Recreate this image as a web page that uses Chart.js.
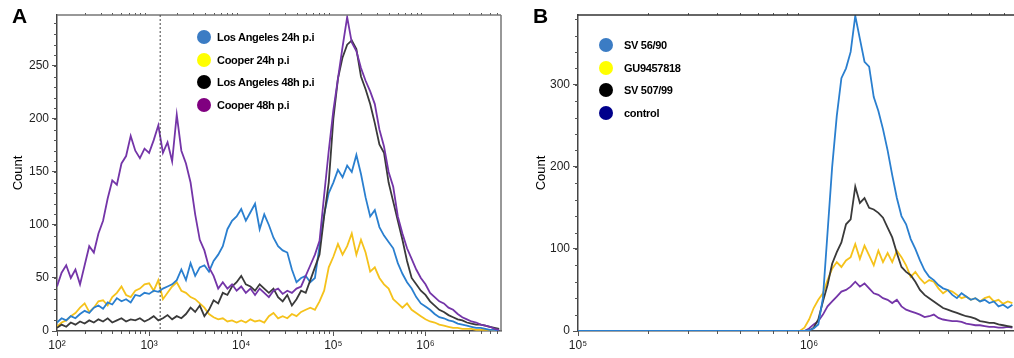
<html lang="en">
<head>
    <meta charset="UTF-8">
    <title>Flow cytometry histograms</title>
    <script src="https://cdn.jsdelivr.net/npm/chart.js"></script>
    <style>
        body { margin: 0; background: #fff; font-family: "Liberation Sans", Arial, sans-serif; }
        #wrap { position: relative; width: 1014px; height: 358px; overflow: hidden; }
        .panel { position: absolute; top: 0; height: 358px; }
        .letter { position: absolute; top: 4px; font-weight: bold; font-size: 21px; color: #000; }
        .legend { position: absolute; font-size: 11px; font-weight: bold; letter-spacing: -0.3px; color: #000; }
        .legend div { display: flex; align-items: center; height: 14px; margin-bottom: 8.5px; white-space: nowrap; }
        .legend span.dot { width: 14px; height: 14px; border-radius: 50%; display: inline-block; margin-right: 6px; flex: none; }
        #legendB span.dot { margin-right: 11px; }
    </style>
</head>
<body>
    <div id="wrap">
        <div class="panel" style="left:0;width:510px"><canvas id="chartA"></canvas></div>
        <div class="panel" style="left:510px;width:504px"><canvas id="chartB"></canvas></div>
        <div class="letter" style="left:12px">A</div>
        <div class="letter" style="left:533px">B</div>
        <div class="legend" id="legendA" style="left:197px;top:30px"></div>
        <div class="legend" id="legendB" style="left:599px;top:38px"></div>
    </div>

    <script>
        // ---- panel A: bins are log10 of fluorescence ----
        const binExpA = [
            2.00, 2.05, 2.10, 2.15, 2.20, 2.25, 2.30, 2.35, 2.40, 2.45,
            2.50, 2.55, 2.60, 2.65, 2.70, 2.75, 2.80, 2.85, 2.90, 2.95,
            3.00, 3.05, 3.10, 3.15, 3.20, 3.25, 3.30, 3.35, 3.40, 3.45,
            3.50, 3.55, 3.60, 3.65, 3.70, 3.75, 3.80, 3.85, 3.90, 3.95,
            4.00, 4.05, 4.10, 4.15, 4.20, 4.25, 4.30, 4.35, 4.40, 4.45,
            4.50, 4.55, 4.60, 4.65, 4.70, 4.75, 4.80, 4.85, 4.90, 4.95,
            5.00, 5.05, 5.10, 5.15, 5.20, 5.25, 5.30, 5.35, 5.40, 5.45,
            5.50, 5.55, 5.60, 5.65, 5.70, 5.75, 5.80, 5.85, 5.90, 5.95,
            6.00, 6.05, 6.10, 6.15, 6.20, 6.25, 6.30, 6.35, 6.40, 6.45,
            6.50, 6.55, 6.60, 6.65, 6.70, 6.75, 6.80
        ];
        const cooper48 = [
            42, 55, 62, 50, 58, 44, 62, 80, 74, 92,
            104, 125, 142, 138, 158, 165, 184, 170, 163, 172,
            168, 180, 194, 168, 178, 160, 204, 170, 158, 140,
            110, 86, 76, 60, 52, 40, 46, 40, 44, 38,
            42, 36, 40, 34, 40, 36, 32, 38, 40, 35,
            38, 36, 40, 42, 52, 62, 72, 85, 128, 170,
            208, 238, 268, 296, 272, 264, 248, 236, 226, 214,
            190, 174, 150, 136, 108, 92, 78, 68, 58, 50,
            44, 36, 32, 28, 26, 22, 20, 16, 13, 11,
            9, 8, 6, 5, 4, 2, 1
        ];
        const losAngeles48 = [
            3, 6, 4, 8, 6, 9, 7, 10, 8, 11,
            9, 12, 8, 10, 12, 9, 11, 10, 12, 9,
            11, 14, 10, 12, 15, 11, 14, 12, 16, 22,
            18, 24, 14, 20, 29, 26, 36, 34, 42, 46,
            52, 44, 42, 38, 44, 40, 36, 40, 32, 28,
            34, 24, 30, 38, 36, 48, 60, 72, 108, 140,
            200, 238, 258, 270, 274, 266, 240, 228, 214, 196,
            176, 168, 140, 122, 104, 86, 66, 50, 44, 38,
            34, 28, 24, 20, 18, 15, 13, 11, 10, 8,
            7, 6, 6, 5, 4, 3, 2
        ];
        const losAngeles24 = [
            8, 12, 10, 14, 12, 16, 19, 17, 22, 24,
            21, 27, 25, 31, 28, 30, 27, 34, 33, 36,
            35, 38, 37, 40, 42, 44, 48, 58, 48, 64,
            52, 60, 62, 56, 66, 72, 80, 96, 104, 108,
            115, 104, 112, 120, 96, 110, 100, 88, 80, 76,
            74, 58, 46, 50, 52, 46, 50, 80, 110, 130,
            140, 152, 145, 156, 150, 166, 148, 126, 108, 114,
            98, 90, 84, 78, 64, 54, 46, 40, 32, 26,
            23, 20, 16, 13, 12, 10, 9, 7, 6, 5,
            4, 3, 3, 2, 1, 1, 0
        ];
        const cooper24 = [
            4, 8, 10, 14, 17, 22, 26, 18, 22, 28,
            29, 24, 32, 36, 42, 34, 32, 38, 40, 44,
            45, 38, 48, 30, 36, 42, 46, 38, 36, 32,
            30, 26, 22, 16, 13, 11, 12, 9, 10, 8,
            10, 8, 11, 9, 10, 8, 14, 17, 12, 14,
            12, 16, 14, 18, 20, 22, 20, 28, 38, 60,
            70, 82, 72, 80, 92, 72, 86, 74, 56, 60,
            50, 44, 40, 30, 26, 22, 26, 20, 17, 14,
            11, 9, 8, 6, 5, 4, 3, 3, 2, 2,
            2, 1, 1, 1, 1, 0, 0
        ];
        const gateExpA = 3.12;

        // ---- panel B ----
        const binExpB = [
            5.00,
            5.90, 5.92, 5.94, 5.96, 5.98, 6.00, 6.02, 6.04, 6.06, 6.08,
            6.10, 6.12, 6.14, 6.16, 6.18, 6.20, 6.22, 6.24, 6.26, 6.28,
            6.30, 6.32, 6.34, 6.36, 6.38, 6.40, 6.42, 6.44, 6.46, 6.48,
            6.50, 6.52, 6.54, 6.56, 6.58, 6.60, 6.62, 6.64, 6.66, 6.68,
            6.70, 6.72, 6.74, 6.76, 6.78, 6.80, 6.82, 6.84, 6.86, 6.88
        ];
        const sv5690 = [
            0,
            0, 0, 0, 0, 0, 1, 3, 8, 40, 120,
            200, 262, 308, 320, 340, 384, 356, 328, 322, 285,
            268, 246, 220, 190, 162, 140, 130, 112, 100, 86,
            74, 66, 62, 56, 52, 50, 44, 40, 46, 42,
            38, 40, 36, 38, 34, 36, 30, 32, 28, 32
        ];
        const gu9457818 = [
            0,
            0, 0, 0, 0, 4, 14, 28, 38, 46, 62,
            76, 84, 78, 86, 90, 106, 88, 104, 92, 80,
            98, 84, 95, 84, 98, 90, 80, 66, 72, 64,
            58, 62, 60, 52, 46, 50, 48, 44, 40, 42,
            38, 40, 36, 40, 42, 36, 38, 33, 36, 34
        ];
        const sv50799 = [
            0,
            0, 0, 0, 0, 0, 0, 4, 14, 36, 56,
            82, 96, 108, 130, 136, 176, 156, 162, 150, 148,
            144, 138, 126, 114, 95, 78, 72, 68, 60, 50,
            44, 40, 36, 32, 28, 26, 24, 22, 20, 18,
            17, 15, 12, 11, 10, 10, 8, 7, 6, 5
        ];
        const control = [
            0,
            0, 0, 0, 0, 0, 3, 8, 12, 20, 30,
            36, 42, 48, 50, 54, 60, 54, 58, 52, 46,
            44, 40, 38, 34, 38, 30, 26, 24, 22, 20,
            17, 18, 20, 16, 14, 13, 12, 12, 11, 9,
            8, 7, 7, 6, 5, 5, 4, 4, 5, 4
        ];

        const ticksA = [0, 50, 100, 150, 200, 250];
        const ticksB = [0, 100, 200, 300];
        const decadesA = [2, 3, 4, 5, 6];
        const decadesB = [5, 6];

        const BLUE = '#2a7fcf', YELLOW = '#f5c21b', BLACK = '#3a3a3a', PURPLE = '#7435a8';
        const sup = { 2: '\u00b2', 3: '\u00b3', 4: '\u2074', 5: '\u2075', 6: '\u2076', 7: '\u2077' };

        function pts(exps, vals) {
            return exps.map((e, i) => ({ x: Math.pow(10, e), y: vals[i] }));
        }

        // minor ticks, top/right frame and gate line
        const frame = {
            id: 'frame',
            afterDraw(chart, args, o) {
                const { ctx, chartArea: a, scales: { x, y } } = chart;
                ctx.save();
                ctx.strokeStyle = '#555';
                ctx.lineWidth = 1;
                const lo = Math.floor(Math.log10(x.min)), hi = Math.ceil(Math.log10(x.max));
                for (let n = lo; n <= hi; n++) {
                    for (let k = 2; k <= 9; k++) {
                        const v = k * Math.pow(10, n);
                        if (v <= x.min || v >= x.max) continue;
                        const px = Math.round(x.getPixelForValue(v)) + 0.5;
                        ctx.beginPath();
                        ctx.moveTo(px, a.bottom); ctx.lineTo(px, a.bottom + 3);
                        ctx.moveTo(px, a.top); ctx.lineTo(px, a.top - 2);
                        ctx.stroke();
                    }
                }
                for (let v = 0; v <= y.max; v += o.yMinor) {
                    const py = Math.round(y.getPixelForValue(v)) + 0.5;
                    ctx.beginPath();
                    ctx.moveTo(a.left, py); ctx.lineTo(a.left - 3, py);
                    ctx.stroke();
                }
                ctx.lineWidth = 1.5;
                ctx.strokeStyle = o.topColor;
                ctx.beginPath();
                ctx.moveTo(a.left, a.top); ctx.lineTo(a.right, a.top);
                if (o.right) { ctx.moveTo(a.right, a.top); ctx.lineTo(a.right, a.bottom); }
                ctx.stroke();
                if (o.gate) {
                    const gx = x.getPixelForValue(Math.pow(10, o.gate));
                    ctx.lineWidth = 1;
                    ctx.strokeStyle = '#444';
                    ctx.setLineDash([2, 2]);
                    ctx.beginPath();
                    ctx.moveTo(gx, a.top); ctx.lineTo(gx, a.bottom);
                    ctx.stroke();
                }
                ctx.restore();
            }
        };

        function makeChart(id, cfg) {
            return new Chart(document.getElementById(id), {
                type: 'line',
                data: {
                    datasets: cfg.series.map(s => ({
                        label: s.label,
                        data: pts(cfg.exps, s.data),
                        borderColor: s.color,
                        borderWidth: 1.8,
                        pointRadius: 0,
                        tension: 0,
                        fill: false
                    }))
                },
                options: {
                    responsive: true,
                    maintainAspectRatio: false,
                    animation: false,
                    layout: { padding: cfg.padding },
                    plugins: { legend: { display: false }, tooltip: { enabled: false }, frame: cfg.frame },
                    scales: {
                        x: {
                            type: 'logarithmic',
                            min: Math.pow(10, cfg.xMin),
                            max: Math.pow(10, cfg.xMax),
                            afterBuildTicks: sc => { sc.ticks = cfg.decades.map(n => ({ value: Math.pow(10, n) })); },
                            afterFit: sc => { sc.height = 27; },
                            ticks: {
                                autoSkip: false,
                                maxRotation: 0,
                                color: '#222',
                                font: { family: 'Liberation Sans', size: 12 },
                                padding: 2,
                                callback: v => '10' + sup[Math.round(Math.log10(v))]
                            },
                            grid: { drawOnChartArea: false, tickLength: 5, color: '#555' },
                            border: { color: '#444', width: 1.5 }
                        },
                        y: {
                            min: 0,
                            max: cfg.yMax,
                            afterBuildTicks: sc => { sc.ticks = cfg.yTicks.map(v => ({ value: v })); },
                            afterFit: sc => { sc.width = cfg.yWidth; },
                            ticks: {
                                color: '#222',
                                font: { family: 'Liberation Sans', size: 12 },
                                padding: 3
                            },
                            title: {
                                display: true,
                                text: 'Count',
                                color: '#000',
                                font: { family: 'Liberation Sans', size: 13 },
                                padding: { top: cfg.titlePad, bottom: 0 }
                            },
                            grid: { drawOnChartArea: false, tickLength: 5, color: '#555' },
                            border: { color: '#444', width: 1.5 }
                        }
                    }
                },
                plugins: [frame]
            });
        }

        makeChart('chartA', {
            exps: binExpA,
            series: [
                { label: 'Cooper 48h p.i', data: cooper48, color: PURPLE },
                { label: 'Los Angeles 48h p.i', data: losAngeles48, color: BLACK },
                { label: 'Los Angeles 24h p.i', data: losAngeles24, color: BLUE },
                { label: 'Cooper 24h p.i', data: cooper24, color: YELLOW }
            ],
            xMin: 2, xMax: 6.82, decades: decadesA,
            yMax: 298, yTicks: ticksA, yWidth: 57, titlePad: 11,
            padding: { top: 15, right: 9, left: 0, bottom: 0 },
            frame: { yMinor: 10, right: true, gate: gateExpA, topColor: '#777' }
        });

        makeChart('chartB', {
            exps: binExpB,
            series: [
                { label: 'SV 56/90', data: sv5690, color: BLUE },
                { label: 'SV 507/99', data: sv50799, color: BLACK },
                { label: 'GU9457818', data: gu9457818, color: YELLOW },
                { label: 'control', data: control, color: PURPLE }
            ],
            xMin: 5, xMax: 6.887, decades: decadesB,
            yMax: 385, yTicks: ticksB, yWidth: 68, titlePad: 24,
            padding: { top: 15, right: 0, left: 0, bottom: 0 },
            frame: { yMinor: 20, right: false, gate: null, topColor: '#333' }
        });

        // legends with coloured circles
        const legendA = [
            ['Los Angeles 24h p.i', '#3b7cc4'],
            ['Cooper 24h p.i', '#ffff00'],
            ['Los Angeles 48h p.i', '#000000'],
            ['Cooper 48h p.i', '#800080']
        ];
        const legendB = [
            ['SV 56/90', '#3b7cc4'],
            ['GU9457818', '#ffff00'],
            ['SV 507/99', '#000000'],
            ['control', '#00008b']
        ];
        function fillLegend(id, items) {
            const box = document.getElementById(id);
            items.forEach(([text, color]) => {
                const row = document.createElement('div');
                row.innerHTML = '<span class="dot" style="background:' + color + '"></span>' + text;
                box.appendChild(row);
            });
        }
        fillLegend('legendA', legendA);
        fillLegend('legendB', legendB);
    </script>
</body>
</html>
